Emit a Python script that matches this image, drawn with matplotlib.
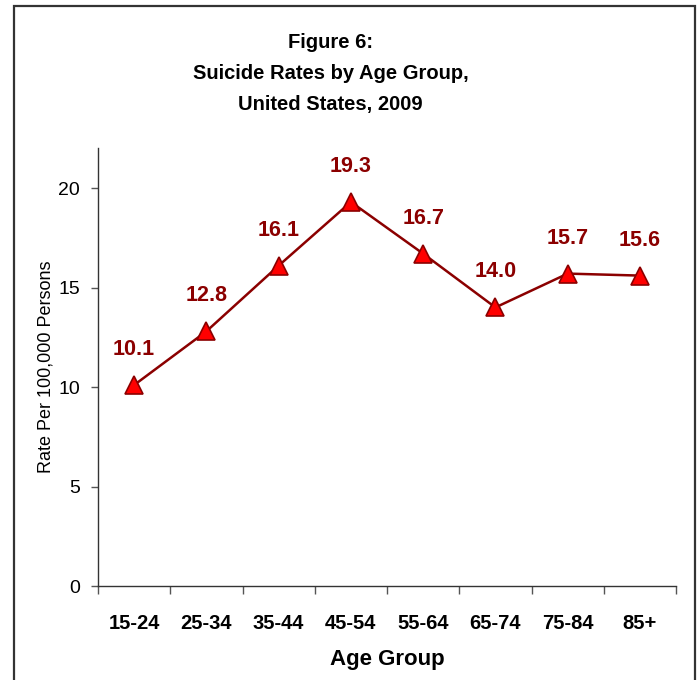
import matplotlib.pyplot as plt
from matplotlib.patches import Rectangle

# Data
age_groups = ['15-24', '25-34', '35-44', '45-54', '55-64', '65-74', '75-84', '85+']
rates = [10.1, 12.8, 16.1, 19.3, 16.7, 14.0, 15.7, 15.6]

plt.rcParams['font.family'] = ['Liberation Sans', 'DejaVu Sans']

fig = plt.figure(figsize=(6.97, 6.80), dpi=100)
ax = fig.add_axes([0.1406, 0.1382, 0.8294, 0.6438])

x = list(range(len(rates)))
ax.plot(x, rates, color='#8B0000', linewidth=1.8, marker='^', markersize=13,
        markerfacecolor='#FF0000', markeredgecolor='#8B0000', markeredgewidth=1.2,
        zorder=3)

for xi, r in zip(x, rates):
    ax.annotate(f'{r:.1f}', (xi, r), xytext=(0, 18), textcoords='offset points',
                ha='center', va='bottom', fontsize=15.5, fontweight='bold',
                color='#8B0000')

ax.set_xlim(-0.5, len(rates) - 0.5)
ax.set_ylim(0, 22)
ax.set_yticks([0, 5, 10, 15, 20])

# category labels centered, tick marks at the category edges
ax.set_xticks([i + 0.5 for i in range(-1, len(rates))])
ax.set_xticklabels([])
ax.set_xticks(x, minor=True)
ax.set_xticklabels(age_groups, minor=True, fontsize=14.5, fontweight='bold')
ax.tick_params(axis='x', which='minor', length=0, pad=20)
ax.tick_params(axis='x', which='major', length=6, width=1, color='#555555')
ax.tick_params(axis='y', labelsize=14, length=5, width=1, color='#555555', pad=8)

for side in ['top', 'right']:
    ax.spines[side].set_visible(False)
for side in ['left', 'bottom']:
    ax.spines[side].set_color('#333333')
    ax.spines[side].set_linewidth(1)

ax.set_ylabel('Rate Per 100,000 Persons', fontsize=13, labelpad=3)
ax.set_xlabel('Age Group', fontsize=16, fontweight='bold', labelpad=12)

fig.text(0.474, 0.952, 'Figure 6:\nSuicide Rates by Age Group,\nUnited States, 2009',
         ha='center', va='top', fontsize=14.5, fontweight='bold', linespacing=1.81)

# outer frame
fig.patches.append(Rectangle((14 / 697, -0.05), (695 - 14) / 697, 1.05 - 6 / 680,
                             transform=fig.transFigure, fill=False,
                             edgecolor='#333333', linewidth=1.6))

plt.savefig('out.png', dpi=100)
